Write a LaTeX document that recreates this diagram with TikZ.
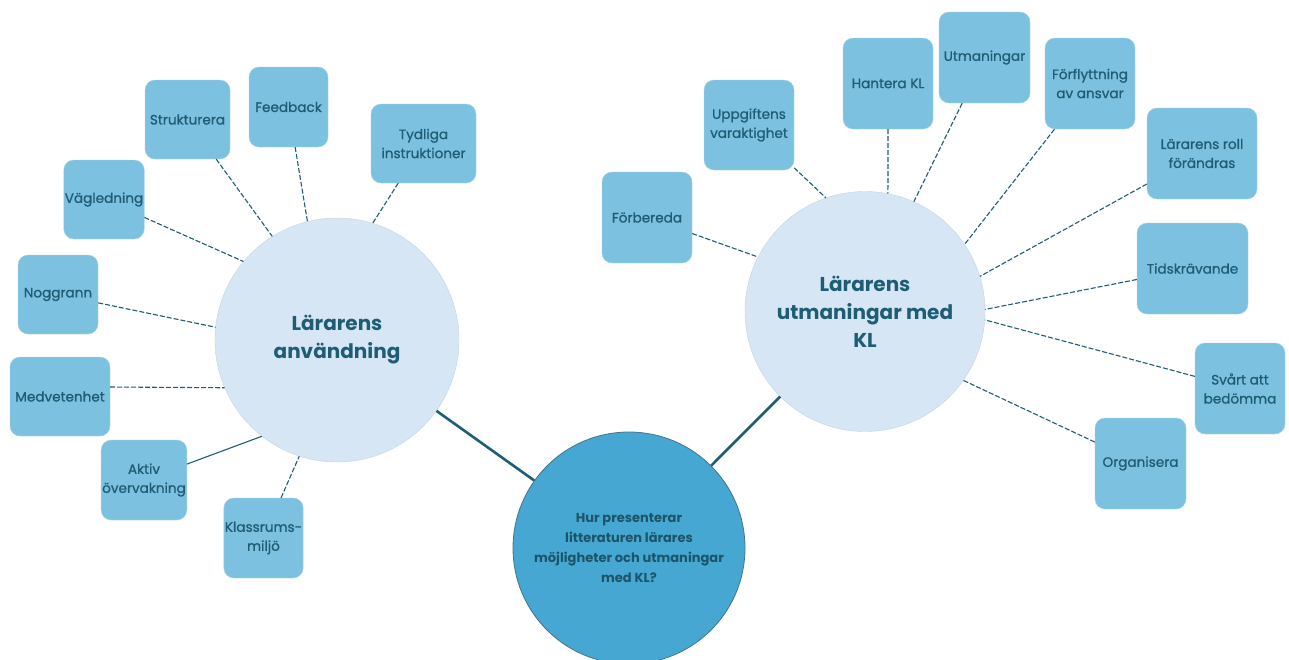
\documentclass[tikz,border=0pt]{standalone}
\usepackage{fontspec}
\setmainfont{Poppins}
\newfontfamily\leaffont[FakeBold=1]{Poppins}
\definecolor{boxblue}{HTML}{7DC1E0}
\definecolor{pale}{HTML}{D6E6F5}
\definecolor{hubblue}{HTML}{46A8D2}
\definecolor{ink}{HTML}{1F5D75}
\begin{document}
\begin{tikzpicture}[x=1pt, y=-1pt,
  leaf/.style={fill=boxblue, draw=boxblue!70!white, rounded corners=10pt,
    text=ink, align=center, inner sep=1pt,
    font=\leaffont\fontsize{13.6}{19}\selectfont},
  theme/.style={circle, fill=pale, draw=pale!92!black, text=ink, align=center,
    inner sep=0pt, font=\fontsize{20}{28}\selectfont\bfseries},
  link/.style={draw=ink, line width=1.1pt, dash pattern=on 5pt off 2pt},
  spoke/.style={draw=ink, line width=2.6pt}]
\useasboundingbox (0,0) rectangle (1289,659);
\fill[white] (0,0) rectangle (1289,659);

% main circles
\node (lanv) [theme, minimum size=244pt] at (337,340) {Lärarens\\användning};
\node (lutm) [theme, minimum size=240pt] at (865,311.5) {Lärarens\\utmaningar med\\KL};
\node (hub) [circle, fill=hubblue, draw=ink!85, line width=0.8pt, text=ink!90!black,
  align=center, minimum size=232pt, inner sep=0pt,
  font=\fontsize{13}{20}\selectfont\bfseries] at (629,548)
  {Hur presenterar\\litteraturen lärares\\möjligheter och utmaningar\\med KL?};

% left leaves
\node (strukturera) [leaf, minimum width=85pt, minimum height=79pt] at (187.5,119.5) {Strukturera};
\node (feedback) [leaf, minimum width=79pt, minimum height=80pt] at (288.5,107) {Feedback};
\node (tydliga) [leaf, minimum width=105pt, minimum height=79pt] at (423.5,143.5) {Tydliga\\instruktioner};
\node (vagledning) [leaf, minimum width=80pt, minimum height=79pt] at (104,199.5) {Vägledning};
\node (noggrann) [leaf, minimum width=80pt, minimum height=79pt] at (58,294.5) {Noggrann};
\node (medvetenhet) [leaf, minimum width=100pt, minimum height=79pt] at (60,396.5) {Medvetenhet};
\node (aktiv) [leaf, minimum width=82pt, minimum height=80pt] at (144,480) {Aktiv\\övervakning};
\node (klassrum) [leaf, minimum width=79pt, minimum height=80pt] at (263.5,538) {Klassrums-\\miljö};

% right leaves
\node (forbereda) [leaf, minimum width=90pt, minimum height=91pt] at (647,217.5) {Förbereda};
\node (uppgiftens) [leaf, minimum width=90pt, minimum height=90pt] at (749,125) {Uppgiftens\\varaktighet};
\node (hantera) [leaf, minimum width=90pt, minimum height=91pt] at (888,83.5) {Hantera KL};
\node (utmaningar) [leaf, minimum width=91pt, minimum height=91pt] at (984.5,57.5) {Utmaningar};
\node (forflyttning) [leaf, minimum width=90pt, minimum height=91pt] at (1090,83.5) {Förflyttning\\av ansvar};
\node (rollen) [leaf, minimum width=110pt, minimum height=91pt] at (1202,153.5) {Lärarens roll\\förändras};
\node (tidskravande) [leaf, minimum width=111pt, minimum height=91pt] at (1192.5,268.5) {Tidskrävande};
\node (svart) [leaf, minimum width=90pt, minimum height=91pt] at (1240,388.5) {Svårt att\\bedömma};
\node (organisera) [leaf, minimum width=91pt, minimum height=91pt] at (1140.5,463.5) {Organisera};

% spokes to the question
\draw[spoke] (lanv) -- (hub);
\draw[spoke] (lutm) -- (hub);

% left links
\draw[link] (strukturera) -- (lanv.122);
\draw[link] (feedback) -- (lanv.104);
\draw[link] (tydliga) -- (lanv.73);
\draw[link] (vagledning) -- (lanv.140);
\draw[link] (noggrann) -- (lanv.174);
\draw[link] (medvetenhet.east |- 0,387) -- (lanv.203);
\draw[draw=ink, line width=1.1pt] (aktiv) -- (lanv.232);
\draw[link] (klassrum) -- (lanv.252);

% right links
\draw[link] (forbereda) -- (lutm.153);
\draw[link] (uppgiftens) -- (lutm.109);
\draw[link] (hantera) -- (lutm.79);
\draw[link] (utmaningar) -- (lutm.66);
\draw[link] (forflyttning) -- (lutm.34);
\draw[link] (rollen) -- (lutm.17);
\draw[link] (tidskravande) -- (lutm.1.5);
\draw[link] (svart) -- (lutm.-4);
\draw[link] (organisera) -- (lutm.-35);

\end{tikzpicture}
\end{document}
